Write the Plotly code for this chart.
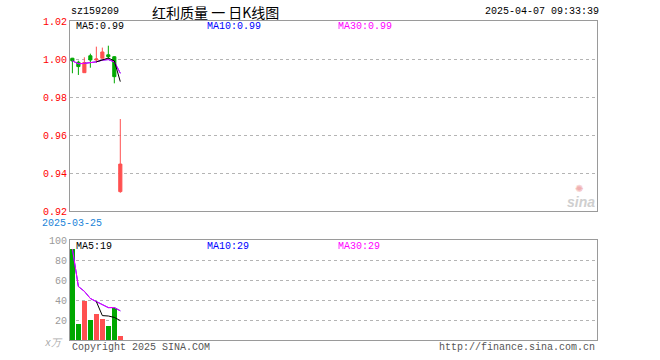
import plotly.graph_objects as go

# ---------------- data ----------------
dates = ["2025-03-25", "2025-03-26", "2025-03-27", "2025-03-28", "2025-03-31",
         "2025-04-01", "2025-04-02", "2025-04-03", "2025-04-07"]
open_p = [1.0004, 0.9983, 0.9928, 1.0017, 0.9995, 1.0004, 1.0022, 1.0012, 0.9302]
high_p = [1.0006, 0.9991, 1.0009, 1.0028, 1.0065, 1.0060, 1.0070, 1.0015, 0.9684]
low_p = [0.9925, 0.9916, 0.9928, 0.9954, 0.9981, 1.0004, 0.9998, 0.9872, 0.9296]
close_p = [0.9990, 0.9960, 0.9981, 0.9995, 1.0000, 1.0037, 1.0012, 0.9907, 0.9447]

ma5_price = [None, None, None, None, 0.9985, 0.9995, 1.0005, 0.9990, 0.9881]
ma10_price = [0.9990, 0.9975, 0.9977, 0.9982, 0.9985, 0.9994, 0.9997, 0.9985, 0.9925]
ma30_price = [0.9990, 0.9975, 0.9977, 0.9982, 0.9985, 0.9994, 0.9997, 0.9985, 0.9925]

volume = [91, 16, 39, 20, 26, 21, 14, 32, 4]
vol_ma5 = [None, None, None, None, 38.4, 24.4, 24.0, 22.6, 19.4]
vol_ma10 = [91, 53.5, 48.7, 41.5, 38.4, 35.5, 32.4, 32.4, 29.2]
vol_ma30 = [91, 53.5, 48.7, 41.5, 38.4, 35.5, 32.4, 32.4, 29.2]

price_ticks = [0.92, 0.94, 0.96, 0.98, 1.00, 1.02]
price_ticklabels = ["0.92", "0.94", "0.96", "0.98", "1.00", "1.02"]
vol_ticks = [20, 40, 60, 80, 100]
vol_ticklabels = ["20", "40", "60", "80", "100"]

code = "sz159209"
title = "红利质量 一 日K线图"
stamp = "2025-04-07 09:33:39"
price_ma_labels = ["MA5:0.99", "MA10:0.99", "MA30:0.99"]
vol_ma_labels = ["MA5:19", "MA10:29", "MA30:29"]

# ---------------- styling ----------------
RED = "#ff5050"
GREEN = "#00a800"
BORDER = "#9a9a9a"
GRID = "#b4b4b4"
MONO = "Liberation Mono, DejaVu Sans Mono, monospace"

W, H = 660, 360
L, R, T, B = 70, 63, 21, 20
PW = W - L - R
PH = H - T - B


def px_x(px):
    return (px - L) / PW


def px_y(py):
    return (H - B - py) / PH


idx = list(range(len(dates)))
xr = [-0.4, 87.6]

fig = go.Figure()

fig.add_trace(go.Candlestick(
    x=idx, open=open_p, high=high_p, low=low_p, close=close_p,
    increasing=dict(line=dict(color=RED, width=1), fillcolor=RED),
    decreasing=dict(line=dict(color=GREEN, width=1), fillcolor=GREEN),
    whiskerwidth=0, xaxis="x", yaxis="y", hoverinfo="skip", showlegend=False,
))
fig.add_trace(go.Scatter(x=idx, y=ma10_price, mode="lines", line=dict(color="#0000ff", width=1),
                         xaxis="x", yaxis="y", hoverinfo="skip", showlegend=False))
fig.add_trace(go.Scatter(x=idx, y=ma30_price, mode="lines", line=dict(color="#ff00ff", width=1),
                         xaxis="x", yaxis="y", hoverinfo="skip", showlegend=False))
fig.add_trace(go.Scatter(x=idx, y=ma5_price, mode="lines", line=dict(color="#000000", width=1),
                         xaxis="x", yaxis="y", hoverinfo="skip", showlegend=False))

vol_colors = [RED if c >= o else GREEN for o, c in zip(open_p, close_p)]
fig.add_trace(go.Bar(x=idx, y=volume, marker=dict(color=vol_colors, line=dict(width=0)),
                     width=0.82, xaxis="x2", yaxis="y2", hoverinfo="skip", showlegend=False))
fig.add_trace(go.Scatter(x=idx, y=vol_ma10, mode="lines", line=dict(color="#0000ff", width=1),
                         xaxis="x2", yaxis="y2", hoverinfo="skip", showlegend=False))
fig.add_trace(go.Scatter(x=idx, y=vol_ma30, mode="lines", line=dict(color="#ff00ff", width=1),
                         xaxis="x2", yaxis="y2", hoverinfo="skip", showlegend=False))
fig.add_trace(go.Scatter(x=idx, y=vol_ma5, mode="lines", line=dict(color="#000000", width=1),
                         xaxis="x2", yaxis="y2", hoverinfo="skip", showlegend=False))

price_dom = [px_y(211), 1.0]
vol_dom = [0.0, px_y(240)]

axis_common = dict(showline=True, mirror=True, linecolor=BORDER, linewidth=1,
                   zeroline=False, fixedrange=True)

fig.update_layout(
    width=W, height=H,
    margin=dict(l=L, r=R, t=T, b=B, pad=0),
    paper_bgcolor="white", plot_bgcolor="white",
    boxgap=0.25, bargap=0,
    showlegend=False,
    xaxis=dict(domain=[0, 1], range=xr, showticklabels=False, showgrid=False,
               anchor="y", rangeslider=dict(visible=False), **axis_common),
    yaxis=dict(domain=price_dom, range=[0.92, 1.02], tickvals=price_ticks,
               ticktext=price_ticklabels, tickfont=dict(family=MONO, size=10, color="#ff0000"),
               showgrid=True, gridcolor=GRID, griddash="dot", gridwidth=1,
               anchor="x", ticks="", **axis_common),
    xaxis2=dict(domain=[0, 1], range=xr, showticklabels=False, showgrid=False,
                anchor="y2", **axis_common),
    yaxis2=dict(domain=vol_dom, range=[0, 100], tickvals=vol_ticks,
                ticktext=vol_ticklabels, tickfont=dict(family=MONO, size=10, color="#9a9a9a"),
                showgrid=True, gridcolor=GRID, griddash="dot", gridwidth=1,
                anchor="x2", ticks="", **axis_common),
)

ann = []


def text(s, px, py, color="#000000", size=10, anchor="left", family=MONO, italic=False):
    ann.append(dict(text=("<i>%s</i>" % s) if italic else s, x=px_x(px), y=px_y(py),
                    xref="paper", yref="paper", xanchor=anchor, yanchor="middle",
                    showarrow=False, font=dict(family=family, size=size, color=color)))


text(code, 69, 12)
text(title, 150, 12, size=14, family="Noto Sans CJK SC")
text(stamp, 601, 12, anchor="right")

ma_colors = ["#000000", "#0000ff", "#ff00ff"]
ma_x = [74, 205, 336]
for lab, c, x in zip(price_ma_labels, ma_colors, ma_x):
    text(lab, x, 27, color=c)
for lab, c, x in zip(vol_ma_labels, ma_colors, ma_x):
    text(lab, x, 246, color=c)

text(dates[0], 40, 223, color="#1a84d8")
text("x万", 65, 343, color="#aaaaaa", anchor="right", italic=True)
text("Copyright 2025 SINA.COM", 70, 347, color="#555555")
text("http://finance.sina.com.cn", 597, 347, color="#555555", anchor="right")

# faint watermark
text("<b>sina</b>", 597, 202, color="#cfcfcf", size=14, anchor="right",
     family="Liberation Sans, Arial, sans-serif", italic=True)
text("✺", 579, 188, color="#f0b0b0", size=10, anchor="center",
     family="DejaVu Sans")

fig.update_layout(annotations=ann)

fig.write_html("out.html", config={"displayModeBar": False},
               post_script="document.body.style.margin='0';document.body.style.padding='0';")
